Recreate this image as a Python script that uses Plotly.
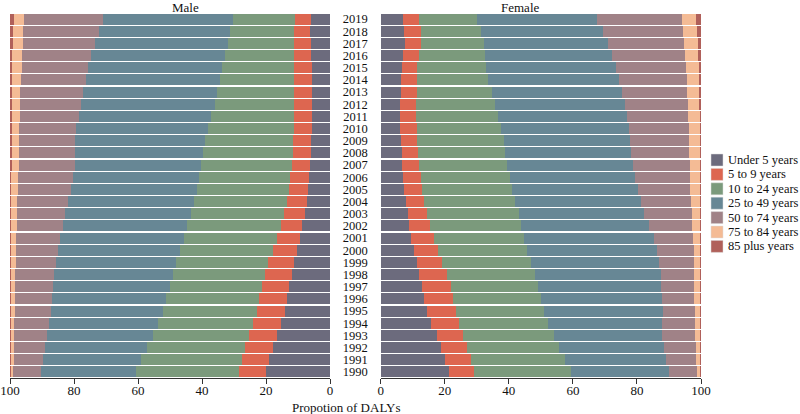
import plotly.graph_objects as go
from plotly.subplots import make_subplots

years = [str(y) for y in range(1990, 2020)]
groups = ["Under 5 years", "5 to 9 years", "10 to 24 years", "25 to 49 years",
          "50 to 74 years", "75 to 84 years", "85 plus years"]
colors = ["#6c6b7d", "#dd6650", "#7b9a7c", "#678795", "#a08287", "#f4bb95", "#b0605a"]

# Male shares (1990 -> 2019)
male_u5 = [20.1, 19.1, 17.9, 16.6, 15.3, 14.1, 13.3, 12.7, 12.0, 11.2, 10.3, 9.5, 8.6, 7.8, 7.3,
           7.0, 6.6, 6.2, 6.0, 5.8, 5.7, 5.7, 5.7, 5.7, 5.7, 5.7, 5.8, 6.0, 6.1, 5.9]
male_5_9 = [8.2, 8.3, 8.6, 8.7, 8.8, 8.7, 8.9, 8.7, 8.3, 8.1, 7.5, 7.1, 6.7, 6.5, 6.1,
            5.9, 5.9, 5.8, 5.7, 5.7, 5.4, 5.4, 5.4, 5.4, 5.4, 5.5, 5.5, 5.2, 5.2, 5.1]
male_10_24 = [32.4, 31.7, 30.8, 30.1, 29.8, 29.4, 28.9, 28.7, 28.9, 28.9, 29.2, 29.1, 29.3, 29.0, 29.0,
              28.7, 28.4, 28.2, 27.9, 27.5, 27.1, 26.1, 24.9, 24.2, 23.4, 22.4, 21.5, 20.8, 20.0, 19.3]
male_25_49 = [29.7, 30.6, 31.8, 32.9, 33.9, 35.1, 35.9, 36.5, 36.9, 37.4, 38.1, 38.8, 38.9, 39.4, 39.5,
              39.3, 39.3, 39.5, 40.0, 40.6, 41.1, 41.2, 41.7, 41.8, 41.9, 42.0, 41.8, 41.4, 41.0, 40.5]
male_50_74 = [8.8, 9.2, 9.7, 10.4, 10.8, 11.2, 11.5, 11.8, 12.2, 12.6, 13.1, 13.5, 14.4, 15.1, 15.8,
              16.6, 17.2, 17.6, 17.6, 17.6, 17.8, 18.6, 19.2, 19.7, 20.3, 20.8, 21.6, 22.6, 23.5, 24.8]
male_75_84 = [0.5, 0.8, 0.9, 1.0, 1.1, 1.2, 1.2, 1.3, 1.4, 1.5, 1.5, 1.7, 1.8, 1.9, 2.0,
              2.2, 2.3, 2.3, 2.4, 2.4, 2.4, 2.5, 2.6, 2.7, 2.7, 3.0, 3.1, 3.2, 3.3, 3.3]
male_85p = [0.3, 0.3, 0.3, 0.3, 0.3, 0.3, 0.3, 0.3, 0.3, 0.3, 0.3, 0.3, 0.3, 0.3, 0.3,
            0.3, 0.3, 0.4, 0.4, 0.4, 0.5, 0.5, 0.5, 0.5, 0.6, 0.6, 0.7, 0.8, 0.9, 1.1]

# Female shares (1990 -> 2019)
female_u5 = [21.2, 20.1, 18.8, 17.5, 15.7, 14.4, 13.5, 12.8, 12.0, 11.2, 10.3, 9.5, 8.8, 8.4, 7.8,
             7.3, 7.0, 6.7, 6.5, 6.2, 6.0, 6.0, 6.0, 6.2, 6.3, 6.6, 7.0, 7.5, 7.3, 7.0]
female_5_9 = [8.0, 8.1, 8.2, 8.3, 8.8, 9.0, 9.2, 9.2, 8.6, 8.05, 7.6, 7.0, 6.7, 6.1, 5.8,
              5.6, 5.5, 5.3, 5.15, 5.1, 5.2, 5.0, 5.1, 5.0, 5.0, 4.8, 5.1, 5.2, 5.3, 5.1]
female_10_24 = [30.1, 29.3, 28.8, 28.2, 27.6, 27.5, 27.5, 27.2, 27.6, 27.65, 27.9, 28.1, 28.3, 28.6, 28.3,
                28.2, 27.9, 27.5, 27.25, 27.1, 26.4, 25.6, 24.6, 23.5, 22.3, 21.4, 20.4, 19.6, 18.7, 18.0]
female_25_49 = [30.8, 31.6, 32.6, 33.8, 35.8, 37.1, 37.5, 38.3, 39.2, 40.0, 40.6, 40.8, 40.1, 39.1, 39.3,
                39.1, 39.0, 39.2, 39.2, 39.4, 40.0, 40.4, 40.6, 40.7, 40.9, 40.7, 39.7, 38.7, 38.1, 37.3]
female_50_74 = [8.65, 9.4, 9.9, 10.3, 10.1, 10.0, 10.2, 10.4, 10.4, 10.9, 11.3, 12.2, 13.4, 14.9, 15.7,
                16.5, 17.2, 17.8, 18.3, 18.5, 18.5, 19.0, 19.5, 20.3, 21.1, 21.8, 22.8, 23.7, 25.0, 26.6]
female_75_84 = [0.85, 1.1, 1.3, 1.5, 1.6, 1.6, 1.7, 1.7, 1.8, 1.8, 1.9, 2.0, 2.3, 2.5, 2.7,
                2.9, 3.0, 3.1, 3.2, 3.3, 3.5, 3.6, 3.7, 3.75, 3.8, 4.0, 4.2, 4.3, 4.35, 4.5]
female_85p = [0.4, 0.4, 0.4, 0.4, 0.4, 0.4, 0.4, 0.4, 0.4, 0.4, 0.4, 0.4, 0.4, 0.4, 0.4,
              0.4, 0.4, 0.4, 0.4, 0.4, 0.4, 0.4, 0.5, 0.55, 0.6, 0.7, 0.8, 1.0, 1.25, 1.5]

male = [male_u5, male_5_9, male_10_24, male_25_49, male_50_74, male_75_84, male_85p]
female = [female_u5, female_5_9, female_10_24, female_25_49, female_50_74, female_75_84, female_85p]

x_ticks = [0, 20, 40, 60, 80, 100]

FONT = "Liberation Serif, Times New Roman, serif"

fig = make_subplots(rows=1, cols=2, shared_yaxes=False, horizontal_spacing=0.0)

for i, g in enumerate(groups):
    fig.add_trace(go.Bar(y=years, x=male[i], orientation="h", name=g,
                         marker=dict(color=colors[i], line=dict(width=0)),
                         showlegend=False), row=1, col=1)
    fig.add_trace(go.Bar(y=years, x=female[i], orientation="h", name=g,
                         marker=dict(color=colors[i], line=dict(width=0)),
                         showlegend=False), row=1, col=2)

W, H = 800, 414
ml, mt = 10, 13
mr = W - 701
mb = H - 378
pw, ph = W - ml - mr, H - mt - mb


def px_x(px):
    return (px - ml) / pw


def px_y(py):
    return (H - mb - py) / ph


male_dom = [0, px_x(330)]
fem_dom = [px_x(380.7), 1]

xcommon = dict(tickvals=x_ticks, ticks="outside", ticklen=5, tickcolor="#333",
               showline=True, linecolor="#333", linewidth=1, showgrid=False,
               zeroline=False, tickfont=dict(size=13), automargin=False,
               ticklabelstandoff=-5)

fig.update_layout(
    width=W, height=H, barmode="stack", bargap=0.1,
    margin=dict(l=ml, r=mr, t=mt, b=mb, autoexpand=False),
    plot_bgcolor="white", paper_bgcolor="white",
    font=dict(family=FONT, size=13, color="#111111"),
    xaxis=dict(domain=male_dom, range=[100, 0], **xcommon),
    xaxis2=dict(domain=fem_dom, range=[0, 100], **xcommon),
    yaxis=dict(type="category", categoryorder="array", categoryarray=years,
               showticklabels=False, showgrid=False, zeroline=False, showline=False,
               automargin=False),
    yaxis2=dict(type="category", categoryorder="array", categoryarray=years,
                tickmode="array", tickvals=years, ticktext=years,
                showticklabels=True, showgrid=False, zeroline=False, showline=False,
                ticks="", ticklabelstandoff=12, tickfont=dict(size=12.5), automargin=False),
    showlegend=False,
)

# Panel titles and axis title
fig.add_annotation(text="Male", x=sum(male_dom) / 2, y=px_y(7), xref="paper", yref="paper",
                   yanchor="middle", showarrow=False, font=dict(size=13))
fig.add_annotation(text="Female", x=sum(fem_dom) / 2, y=px_y(7), xref="paper", yref="paper",
                   yanchor="middle", showarrow=False, font=dict(size=13))
fig.add_annotation(text="Propotion of DALYs", x=px_x(346), y=px_y(407),
                   xref="paper", yref="paper", yanchor="middle", showarrow=False,
                   font=dict(size=13))

# Legend (drawn manually for compact spacing)
for i, g in enumerate(groups):
    cy = 160 + i * 14.4
    fig.add_shape(type="rect", xref="paper", yref="paper",
                  x0=px_x(711), x1=px_x(723), y0=px_y(cy + 6), y1=px_y(cy - 6),
                  fillcolor=colors[i], line=dict(color="#dddddd", width=0.5))
    fig.add_annotation(text=g, x=px_x(726), y=px_y(cy), xref="paper", yref="paper",
                       xanchor="left", yanchor="middle", showarrow=False,
                       font=dict(size=12.5))

fig.write_html("out.html", config={"displayModeBar": False},
               post_script="document.body.style.margin='0';")
